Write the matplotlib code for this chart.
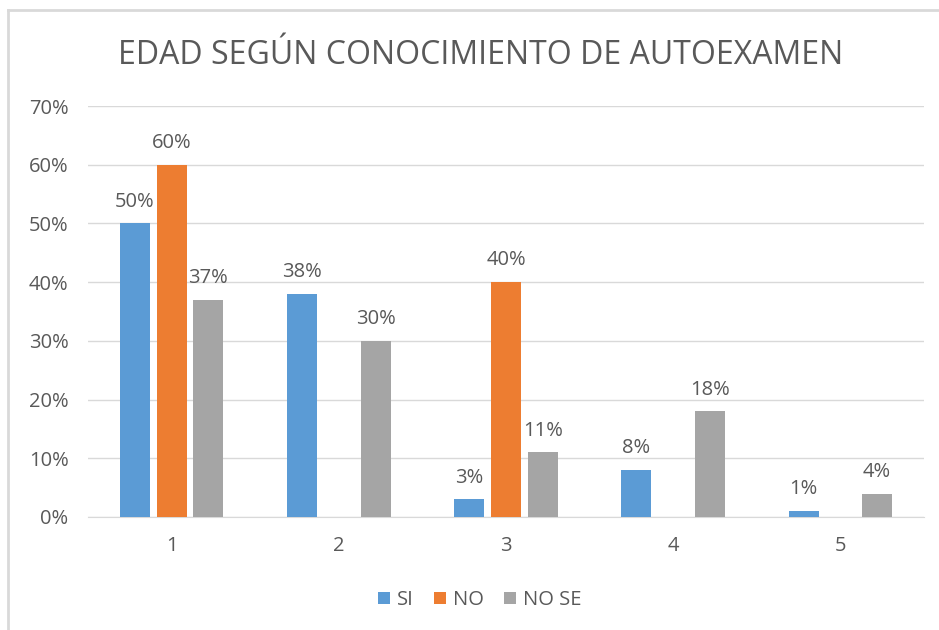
import matplotlib.pyplot as plt
import numpy as np
from matplotlib.lines import Line2D

# ===== Data =====
categories = ["1", "2", "3", "4", "5"]
si = [50, 38, 3, 8, 1]
no = [60, 0, 40, 0, 0]
no_se = [37, 30, 11, 18, 4]
series_names = ["SI", "NO", "NO SE"]
colors = ["#5b9bd5", "#ed7d31", "#a5a5a5"]
title = "EDAD SEGÚN CONOCIMIENTO DE AUTOEXAMEN"

plt.rcParams["font.family"] = ["Open Sans", "DejaVu Sans"]
text_color = "#595959"

fig = plt.figure(figsize=(9.39, 6.3), dpi=100)
ax = fig.add_axes([88 / 939, 1 - 517 / 630, (924 - 88) / 939, (517 - 106) / 630])

# chart border (only top and left visible in the reference)
fig.add_artist(Line2D([8 / 939, 8 / 939], [0, 1 - 10 / 630], transform=fig.transFigure,
                      color="#d9d9d9", lw=2))
fig.add_artist(Line2D([8 / 939, 1], [1 - 10 / 630, 1 - 10 / 630], transform=fig.transFigure,
                      color="#d9d9d9", lw=2))

x = np.arange(len(categories))
width = 0.18
offset = 0.22
for i, (vals, name, col) in enumerate(zip([si, no, no_se], series_names, colors)):
    pos = x + (i - 1) * offset
    ax.bar(pos, vals, width=width, color=col, label=name, zorder=3)
    for p, v in zip(pos, vals):
        if v > 0:
            ax.text(p, v + 2.0, f"{v}%", ha="center", va="bottom",
                    fontsize=14.5, color=text_color)

ax.set_xlim(-0.5, len(categories) - 0.5)
ax.set_ylim(0, 70)
ax.set_yticks(range(0, 71, 10))
ax.set_yticklabels([f"{t}%" for t in range(0, 71, 10)])
ax.set_xticks(x)
ax.set_xticklabels(categories)
ax.tick_params(axis="both", length=0, labelsize=14.5, colors=text_color)
ax.tick_params(axis="y", pad=14)
ax.tick_params(axis="x", pad=14)
ax.grid(axis="y", color="#d9d9d9", lw=1, zorder=0)
for s in ["top", "right", "left"]:
    ax.spines[s].set_visible(False)
ax.spines["bottom"].set_color("#d9d9d9")

fig.text(481 / 939, 1 - 55 / 630, title, ha="center", va="center",
         fontsize=23, color=text_color)

handles, labels = ax.get_legend_handles_labels()
fig.legend(handles, labels, loc="center", bbox_to_anchor=(480 / 939, 1 - 600 / 630),
           ncol=3, frameon=False, fontsize=14.5, labelcolor=text_color,
           handlelength=0.6, handleheight=0.6, handletextpad=0.35, columnspacing=1.0)

fig.savefig("out.png", dpi=100, facecolor="white")
